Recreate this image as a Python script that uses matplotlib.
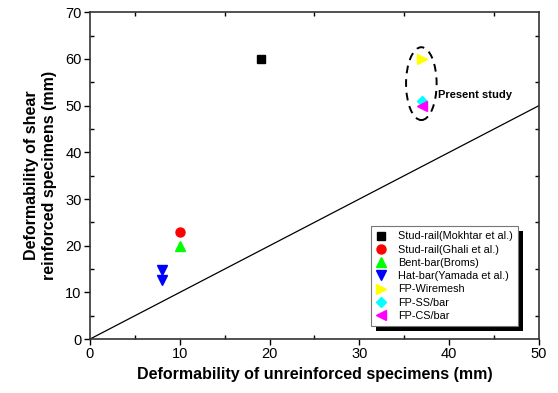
import matplotlib.pyplot as plt
from matplotlib.patches import Ellipse, Rectangle
from matplotlib.ticker import MultipleLocator

plt.rcParams['font.family'] = ['Liberation Sans', 'DejaVu Sans']

# data (x = unreinforced, y = shear reinforced), mm
labels = ['Stud-rail(Mokhtar et al.)', 'Stud-rail(Ghali et al.)', 'Bent-bar(Broms)',
          'Hat-bar(Yamada et al.)', 'FP-Wiremesh', 'FP-SS/bar', 'FP-CS/bar']
xs = [[19], [10], [10], [8, 8], [37], [37], [37]]
ys = [[60], [23], [20], [14.7, 12.7], [60], [51], [50]]
markers = ['s', 'o', '^', 'v', '>', 'D', '<']
colors = ['black', 'red', '#00ff00', 'blue', 'yellow', 'cyan', 'magenta']
sizes = [5.5, 6.5, 6.5, 6.5, 6.5, 5.5, 6.5]

fig = plt.figure(figsize=(5.58, 3.93), dpi=100)
ax = fig.add_axes([0.161, 0.137, 0.805, 0.832])

for i in range(len(labels)):
  ax.plot(xs[i], ys[i], linestyle='none', marker=markers[i], color=colors[i],
          markersize=sizes[i], label=labels[i], zorder=3)

ax.plot([0, 50], [0, 50], color='black', lw=0.9, zorder=2)

ell = Ellipse((36.9, 54.7), 3.4, 15.6, fill=False, ls=(0, (4, 3)), lw=1.4, color='black')
ax.add_patch(ell)
ax.text(38.8, 52.2, 'Present study', fontsize=8, fontweight='bold', va='center')

ax.set_xlim(0, 50)
ax.set_ylim(0, 70)
ax.xaxis.set_major_locator(MultipleLocator(10))
ax.xaxis.set_minor_locator(MultipleLocator(5))
ax.yaxis.set_major_locator(MultipleLocator(10))
ax.yaxis.set_minor_locator(MultipleLocator(5))
ax.tick_params(which='major', direction='out', length=4, width=1, labelsize=10.5, pad=2)
ax.tick_params(which='minor', direction='in', length=3, width=1, top=True, right=True)
for s in ax.spines.values():
  s.set_linewidth(1.2)
  s.set_color('#333333')

ax.set_xlabel('Deformability of unreinforced specimens (mm)', fontsize=11.5, fontweight='bold', labelpad=4)
ax.set_ylabel('Deformability of shear\nreinforced specimens (mm)', fontsize=11.5, fontweight='bold', labelpad=6)

leg = ax.legend(loc='upper left', bbox_to_anchor=(0.625, 0.346), borderaxespad=0,
                fontsize=7.8, labelspacing=0.3, handlelength=1.0, handletextpad=1.0,
                borderpad=0.5, fancybox=False, framealpha=1, edgecolor='#777777')
leg.get_frame().set_linewidth(0.8)
leg.set_zorder(6)

# solid black drop shadow behind the legend box
fig.canvas.draw()
bb = leg.get_window_extent()
shadow = Rectangle((bb.x0 + 5, bb.y0 - 5), bb.width, bb.height, transform=None,
                   facecolor='black', edgecolor='none', zorder=5, clip_on=False)
ax.add_patch(shadow)

fig.savefig('out.png', dpi=100)
